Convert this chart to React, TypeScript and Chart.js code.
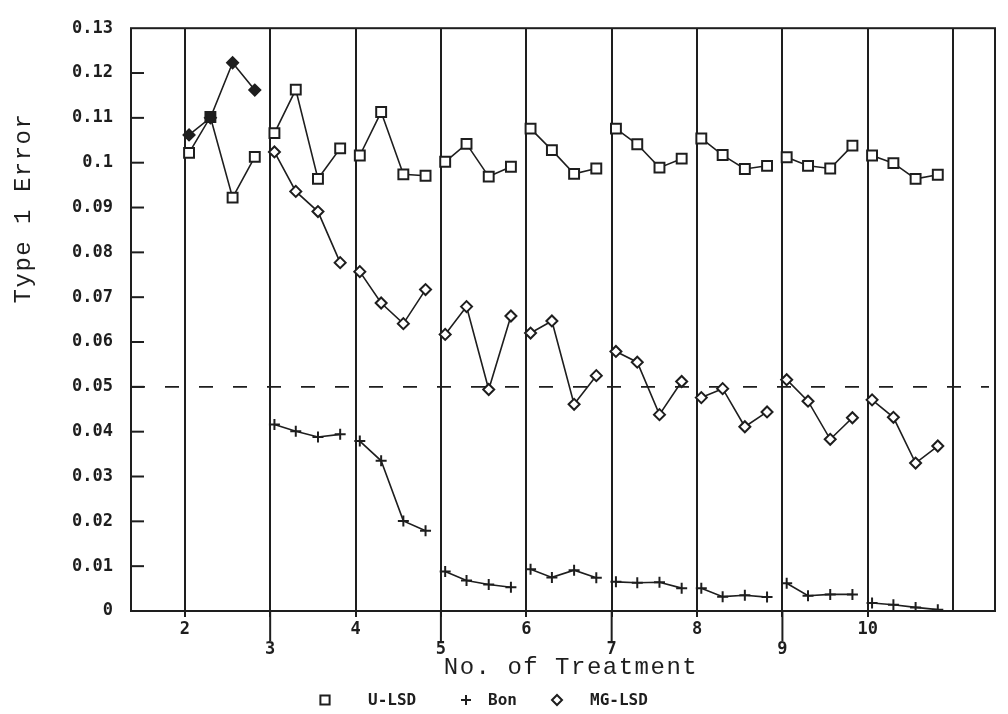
import React, { useEffect, useRef } from 'react';
import { Chart, registerables } from 'chart.js';

Chart.register(...registerables);

// ---- data ----
const treatments = [2, 3, 4, 5, 6, 7, 8, 9, 10];
const levelOffsets = [0.05, 0.3, 0.56, 0.82];

const uLsd = [
  [0.1022, 0.1102, 0.0922, 0.1013],
  [0.1066, 0.1163, 0.0964, 0.1032],
  [0.1016, 0.1113, 0.0974, 0.0971],
  [0.1002, 0.1042, 0.0969, 0.0991],
  [0.1076, 0.1028, 0.0975, 0.0987],
  [0.1076, 0.1041, 0.0989, 0.1009],
  [0.1054, 0.1017, 0.0986, 0.0993],
  [0.1012, 0.0993, 0.0987, 0.1038],
  [0.1016, 0.0999, 0.0964, 0.0973],
];

const bon = [
  [null, null, null, null],
  [0.0416, 0.0401, 0.0388, 0.0394],
  [0.0379, 0.0335, 0.0201, 0.0179],
  [0.0088, 0.0068, 0.0059, 0.0053],
  [0.0093, 0.0075, 0.0091, 0.0074],
  [0.0065, 0.0063, 0.0064, 0.0051],
  [0.0051, 0.0032, 0.0035, 0.0031],
  [0.0062, 0.0034, 0.0037, 0.0037],
  [0.0018, 0.0014, 0.0008, 0.0003],
];

const mgLsd = [
  [0.1062, 0.11, 0.1223, 0.1162],
  [0.1024, 0.0936, 0.0891, 0.0777],
  [0.0757, 0.0687, 0.0641, 0.0717],
  [0.0617, 0.0679, 0.0494, 0.0658],
  [0.062, 0.0647, 0.0461, 0.0525],
  [0.0579, 0.0555, 0.0438, 0.0512],
  [0.0476, 0.0496, 0.0411, 0.0444],
  [0.0516, 0.0468, 0.0383, 0.0431],
  [0.0471, 0.0432, 0.033, 0.0368],
];

const xTickValues = [2, 3, 4, 5, 6, 7, 8, 9, 10, 11];
const unlabeledTicks = [11];
const alphaLevel = 0.05;
const seriesNames = ['U-LSD', 'Bon', 'MG-LSD'];
const xTitle = 'No. of Treatment';
const yTitle = 'Type 1 Error';

// ---- styling ----
const INK = '#1e1e1e';
const MONO = '"DejaVu Sans Mono", monospace';
const TITLE_FONT = '"Liberation Mono", "DejaVu Sans Mono", monospace';

function toPoints(groups: (number | null)[][]) {
  const pts: { x: number; y: number | null }[] = [];
  groups.forEach((g, gi) => {
    g.forEach((v, i) => pts.push({ x: treatments[gi] + levelOffsets[i], y: v }));
    pts.push({ x: treatments[gi] + 0.93, y: null });
  });
  return pts;
}

function drawMarker(ctx: CanvasRenderingContext2D, style: string, x: number, y: number, r: number) {
  ctx.beginPath();
  if (style === 'rect') {
    const s = r * Math.SQRT1_2;
    ctx.rect(x - s, y - s, 2 * s, 2 * s);
  } else if (style === 'cross') {
    ctx.moveTo(x - r, y);
    ctx.lineTo(x + r, y);
    ctx.moveTo(x, y - r);
    ctx.lineTo(x, y + r);
  } else {
    ctx.moveTo(x - r, y);
    ctx.lineTo(x, y - r);
    ctx.lineTo(x + r, y);
    ctx.lineTo(x, y + r);
    ctx.closePath();
  }
  ctx.stroke();
}

const decorPlugin = {
  id: 'decor',
  beforeDraw(chart: any) {
    const ctx = chart.ctx;
    ctx.save();
    ctx.fillStyle = '#ffffff';
    ctx.fillRect(0, 0, chart.width, chart.height);
    ctx.restore();
  },
  beforeDatasetsDraw(chart: any) {
    const { ctx, chartArea: a, scales } = chart;
    const x = scales.x;
    const y = scales.y;
    ctx.save();
    ctx.strokeStyle = INK;
    // alpha reference line
    const yy = y.getPixelForValue(alphaLevel);
    ctx.setLineDash([14, 20]);
    ctx.lineWidth = 1.6;
    ctx.beginPath();
    ctx.moveTo(a.left, yy);
    ctx.lineTo(a.right - 6, yy);
    ctx.stroke();
    ctx.setLineDash([]);
    // inward y ticks
    ctx.lineWidth = 2;
    y.ticks.forEach((t: any) => {
      if (t.value <= 0.0001 || t.value >= 0.1299) return;
      const p = y.getPixelForValue(t.value);
      ctx.beginPath();
      ctx.moveTo(a.left, p);
      ctx.lineTo(a.left + 13, p);
      ctx.stroke();
    });
    // long ticks for odd treatments
    x.ticks.forEach((t: any) => {
      if (t.value % 2 === 1 && !unlabeledTicks.includes(t.value)) {
        const p = x.getPixelForValue(t.value);
        ctx.beginPath();
        ctx.moveTo(p, a.bottom);
        ctx.lineTo(p, a.bottom + 30);
        ctx.stroke();
      }
    });
    // frame
    ctx.lineWidth = 2;
    ctx.strokeRect(a.left, a.top, a.right - a.left, a.bottom - a.top);
    ctx.restore();
  },
  afterDraw(chart: any) {
    const { ctx, chartArea: a } = chart;
    ctx.save();
    ctx.fillStyle = INK;
    ctx.strokeStyle = INK;
    // axis titles
    ctx.font = `24px ${TITLE_FONT}`;
    (ctx as any).letterSpacing = '1.5px';
    ctx.textAlign = 'center';
    ctx.textBaseline = 'middle';
    ctx.fillText(xTitle, (a.left + a.right) / 2 + 8, a.bottom + 57);
    ctx.save();
    ctx.translate(24, 208);
    ctx.rotate(-Math.PI / 2);
    ctx.fillText(yTitle, 0, 0);
    ctx.restore();
    (ctx as any).letterSpacing = '0px';
    // legend
    const styles = ['rect', 'cross', 'rectRot'];
    const markerX = [325, 466, 557];
    const textX = [368, 488, 590];
    const ly = a.bottom + 89;
    ctx.font = `bold 16px ${MONO}`;
    ctx.textAlign = 'left';
    ctx.lineWidth = 2;
    seriesNames.forEach((name, i) => {
      drawMarker(ctx, styles[i], markerX[i], ly, styles[i] === 'rect' ? 6.5 : 5);
      ctx.fillText(name, textX[i], ly + 1);
    });
    ctx.restore();
  },
};

export default function App() {
  const canvasRef = useRef<HTMLCanvasElement | null>(null);

  useEffect(() => {
    if (!canvasRef.current) return;
    const common = {
      borderColor: INK,
      borderWidth: 1.6,
      pointBorderColor: INK,
      pointBorderWidth: 2,
      spanGaps: false,
      tension: 0,
    };
    const chart = new Chart(canvasRef.current, {
      type: 'line',
      data: {
        datasets: [
          {
            ...common,
            label: seriesNames[0],
            data: toPoints(uLsd),
            pointStyle: 'rect',
            pointRadius: 7,
            pointBackgroundColor: (c: any) => (c.dataIndex === 1 ? INK : '#ffffff'),
          },
          {
            ...common,
            label: seriesNames[1],
            data: toPoints(bon),
            pointStyle: 'cross',
            pointRadius: 5.5,
            pointBackgroundColor: '#ffffff',
          },
          {
            ...common,
            label: seriesNames[2],
            data: toPoints(mgLsd),
            pointStyle: 'rectRot',
            pointRadius: 5.5,
            pointBackgroundColor: (c: any) => (c.raw && c.raw.x < 3 ? INK : '#ffffff'),
          },
        ],
      } as any,
      options: {
        animation: false,
        responsive: true,
        maintainAspectRatio: false,
        layout: { padding: { top: 19, right: 13, bottom: 0, left: 0 } },
        plugins: {
          legend: { display: false },
          tooltip: { enabled: false },
        },
        scales: {
          x: {
            type: 'linear',
            min: 1.37,
            max: 11.49,
            afterBuildTicks: (scale: any) => {
              scale.ticks = xTickValues.map((value) => ({ value }));
            },
            afterFit: (scale: any) => {
              scale.height = 103;
            },
            border: { display: false },
            grid: {
              color: INK,
              lineWidth: 2,
              drawTicks: true,
              tickLength: 6,
              tickColor: (c: any) => (c.tick && unlabeledTicks.includes(c.tick.value) ? 'rgba(0,0,0,0)' : INK),
            },
            ticks: {
              autoSkip: false,
              maxRotation: 0,
              minRotation: 0,
              padding: 3,
              color: INK,
              font: { family: MONO, size: 17, weight: 'bold', lineHeight: '20px' },
              callback: (v: any) => {
                if (unlabeledTicks.includes(v)) return '';
                return v % 2 === 0 ? String(v) : ['', String(v)];
              },
            },
          },
          y: {
            type: 'linear',
            min: 0,
            max: 0.13,
            afterFit: (scale: any) => {
              scale.width = 131;
            },
            border: { display: false },
            grid: { display: false, drawTicks: false },
            ticks: {
              stepSize: 0.01,
              padding: 18,
              color: INK,
              font: { family: MONO, size: 17, weight: 'bold' },
              callback: (v: any) => String(parseFloat(Number(v).toFixed(2))),
            },
          },
        },
      } as any,
      plugins: [decorPlugin],
    });
    return () => chart.destroy();
  }, []);

  return (
    <div style={{ position: 'fixed', left: 0, top: 0, width: 1008, height: 714, background: '#fff' }}>
      <canvas ref={canvasRef} />
    </div>
  );
}
